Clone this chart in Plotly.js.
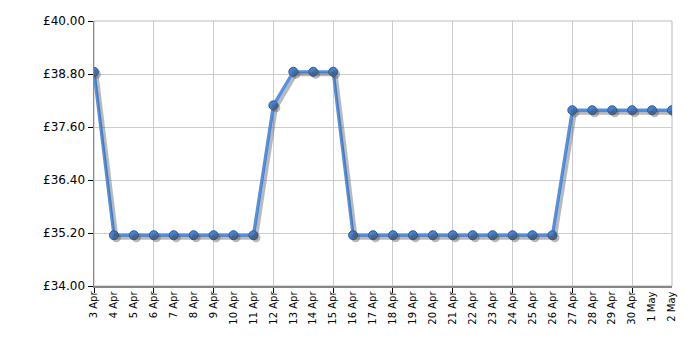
<!DOCTYPE html>
<html>
<head>
<meta charset="utf-8">
<script src="https://cdn.plot.ly/plotly-3.0.1.min.js"></script>
<style>html,body{margin:0;padding:0;background:#fff;}#chart{width:700px;height:350px;}</style>
</head>
<body>
<div id="chart"></div>
<script>
const dateLabels = ['3 Apr','4 Apr','5 Apr','6 Apr','7 Apr','8 Apr','9 Apr','10 Apr','11 Apr','12 Apr','13 Apr','14 Apr','15 Apr','16 Apr','17 Apr','18 Apr','19 Apr','20 Apr','21 Apr','22 Apr','23 Apr','24 Apr','25 Apr','26 Apr','27 Apr','28 Apr','29 Apr','30 Apr','1 May','2 May'];
const prices = [38.85,35.15,35.15,35.15,35.15,35.15,35.15,35.15,35.15,38.09,38.85,38.85,38.85,35.15,35.15,35.15,35.15,35.15,35.15,35.15,35.15,35.15,35.15,35.15,37.98,37.98,37.98,37.98,37.98,37.98];
const yTickVals = [34,35.2,36.4,37.6,38.8,40];
const yTickText = ['£34.00','£35.20','£36.40','£37.60','£38.80','£40.00'];

const xIdx = dateLabels.map((_, i) => i);
const n = dateLabels.length - 1;
// pixel-based offset for the drop shadow
const plotW = 700 - 94 - 28, plotH = 350 - 21 - 64;
const dx = 2.5 * n / plotW, dy = 2.5 * 6 / plotH;

const shadow = {
  x: xIdx, y: prices, xaxis: 'x2', yaxis: 'y2', mode: 'lines+markers', hoverinfo: 'skip',
  line: {color: 'rgba(80,80,80,0.4)', width: 4},
  marker: {size: 9, color: 'rgba(80,80,80,0.4)'}
};
const main = {
  x: xIdx, y: prices, mode: 'lines+markers',
  line: {color: '#4e92ec', width: 3.2},
  marker: {size: 9, color: '#4283da', line: {color: '#2b5c9e', width: 1}}
};

const layout = {
  width: 700, height: 350,
  margin: {l: 94, r: 28, t: 21, b: 64},
  paper_bgcolor: '#fff', plot_bgcolor: '#fff',
  showlegend: false,
  font: {family: 'DejaVu Sans, Verdana, sans-serif', color: '#000'},
  xaxis: {
    type: 'linear', range: [0, n], fixedrange: true,
    tickvals: xIdx, ticktext: dateLabels, tickangle: -90,
    tickfont: {size: 10, color: '#000'},
    showgrid: false, ticks: '', zeroline: false,
    showline: true, linecolor: '#888', linewidth: 1.5, mirror: false,
    minor: {dtick: 3, tick0: 0, showgrid: true, gridcolor: '#cccccc', gridwidth: 1, ticks: 'outside', ticklen: 5, tickcolor: '#000'}
  },
  yaxis: {
    range: [34, 40], fixedrange: true,
    tickvals: yTickVals, ticktext: yTickText,
    tickfont: {size: 12, color: '#000'},
    ticks: 'outside', ticklen: 5, tickcolor: '#000',
    showgrid: true, gridcolor: '#cccccc', gridwidth: 1, zeroline: false,
    showline: true, linecolor: '#888', linewidth: 1.5
  },
  xaxis2: {overlaying: 'x', range: [-dx, n - dx], visible: false, fixedrange: true},
  yaxis2: {overlaying: 'y', range: [34 + dy, 40 + dy], visible: false, fixedrange: true},
  shapes: [{type: 'rect', xref: 'paper', yref: 'paper', x0: 0, x1: 1, y0: 0, y1: 1, line: {color: '#bbbbbb', width: 1}, layer: 'below'}]
};

Plotly.newPlot('chart', [shadow, main], layout, {displayModeBar: false, staticPlot: true});
</script>
</body>
</html>
